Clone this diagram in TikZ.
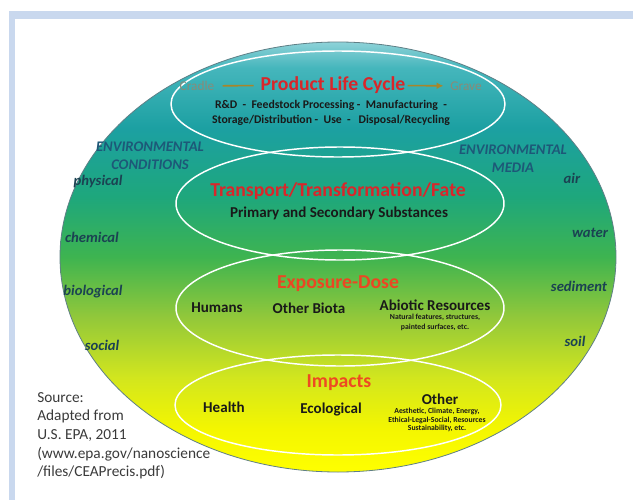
\documentclass[tikz,border=0pt]{standalone}
\usepackage{fontspec}
\setmainfont{Carlito}
\usepackage{xcolor}
\usepackage{tikz}
\usetikzlibrary{positioning,calc,arrows.meta}

\definecolor{frameblue}{HTML}{C9D8EE}
\definecolor{titlered}{HTML}{D9262A}
\definecolor{impactred}{HTML}{EE4A22}
\definecolor{envblue}{HTML}{1D5878}
\definecolor{envtext}{HTML}{1B4252}
\definecolor{cradlegray}{HTML}{8A8A78}
\definecolor{arrowbrown}{HTML}{A8862A}
\definecolor{rimline}{HTML}{5F7F86}
\definecolor{srcgray}{HTML}{3A3A3A}
\definecolor{gTop}{HTML}{8ED2D8}
\definecolor{gCy}{HTML}{45B6BC}
\definecolor{gTe}{HTML}{1CA0A2}
\definecolor{gTg}{HTML}{1EA77C}
\definecolor{gGr}{HTML}{3EB450}
\definecolor{gLg}{HTML}{92C83A}
\definecolor{gYg}{HTML}{D2E61E}
\definecolor{gYel}{HTML}{F4F600}
\definecolor{gBot}{HTML}{FFFF00}

\pgfdeclareverticalshading{globeshade}{100bp}{color(0bp)=(gBot); color(25bp)=(gBot);
  color(30bp)=(gYel); color(36bp)=(gYg); color(43bp)=(gLg); color(50bp)=(gGr);
  color(57bp)=(gTg); color(65bp)=(gTe); color(72bp)=(gCy); color(75bp)=(gTop); color(100bp)=(gTop)}

\begin{document}
\begin{tikzpicture}[x=0.75pt, y=-0.75pt, inner sep=0pt,
    hd/.style={font=\bfseries\fontsize{14.8}{16}\selectfont},
    sub/.style={font=\bfseries\fontsize{11.3}{13}\selectfont, text=black!90},
    lcline/.style={font=\bfseries\fontsize{8.8}{10}\selectfont, text=black!90},
    tiny/.style={font=\bfseries\fontsize{5.8}{6.2}\selectfont, text=black!90, align=center},
    env/.style={font=\bfseries\itshape\fontsize{11}{13}\selectfont, text=envtext},
    envhd/.style={font=\bfseries\itshape\fontsize{11}{13.5}\selectfont, text=envblue, align=center},
    ring/.style={draw=white, line width=1.1pt}]

    \useasboundingbox (0,0) rectangle (633,500);
    \fill[frameblue] (9,11) rectangle (633,19);
    \fill[frameblue] (9,11) rectangle (15,500);

    % globe and the four stages
    \shade[shading=globeshade, draw=rimline, line width=0.6pt] (338,257) ellipse [x radius=278, y radius=215];
    \draw[ring] (338,104) ellipse [x radius=167, y radius=53];
    \draw[ring] (340,203.5) ellipse [x radius=164, y radius=56.5];
    \draw[ring] (340,308) ellipse [x radius=164, y radius=58];
    \draw[ring] (338,405) ellipse [x radius=163, y radius=50];

    \node[hd, text=titlered] (plc) at (333,85) {Product Life Cycle};
    \node[font=\fontsize{10}{12}\selectfont, text=cradlegray] (cradle) at (197,86) {Cradle};
    \node[font=\fontsize{10}{12}\selectfont, text=cradlegray] (grave) at (466,86) {Grave};
    \draw[arrowbrown, line width=1.2pt, shorten <=6pt, shorten >=5pt] (cradle) -- (plc);
    \draw[arrowbrown, line width=1.2pt, -{Latex[length=5pt,width=5pt]}, shorten <=1.5pt, shorten >=5pt] (plc) -- (grave);
    \node[lcline] (rd) at (331,105) {R\&D \ - \ Feedstock Processing - \ Manufacturing \ -};
    \node[lcline] (sd) at (331,120) {Storage/Distribution - \ Use \ - \ \ Disposal/Recycling};

    \node[envhd] (envc) at (150,156) {ENVIRONMENTAL\\CONDITIONS};
    \node[env] (phys) at (98,182) {physical};
    \node[env] (chem) at (92,237) {chemical};
    \node[env] (bio) at (93,292) {biological};
    \node[env] (soc) at (102,345) {social};

    \node[envhd] (envm) at (513,159) {ENVIRONMENTAL\\MEDIA};
    \node[env] (air) at (572,178) {air};
    \node[env] (water) at (590,233) {water};
    \node[env] (sed) at (579,286) {sediment};
    \node[env] (soil) at (575,341) {soil};

    \node[hd, text=titlered] (trans) at (338,191) {Transport/Transformation/Fate};
    \node[sub] (prim) at (339,213) {Primary and Secondary Substances};

    \node[hd, text=impactred!90!titlered] (expo) at (338,284) {Exposure-Dose};
    \node[sub] (hum) at (217,308) {Humans};
    \node[sub] (biota) at (309,308) {Other Biota};
    \node[sub] (abio) at (435,305) {Abiotic Resources};
    \node[tiny, font=\bfseries\fontsize{5.8}{7.5}\selectfont] (natf) at (435,322) {Natural features, structures,\\painted surfaces, etc.};

    \node[hd, text=impactred] (imp) at (339,383) {Impacts};
    \node[sub] (health) at (224,407) {Health};
    \node[sub] (eco) at (331,409) {Ecological};
    \node[sub] (other) at (440,399) {Other};
    \node[tiny] (aest) at (437,420) {Aesthetic, Climate, Energy,\\Ethical-Legal-Social, Resources\\Sustainability, etc.};

    \node[font=\fontsize{11.5}{14}\selectfont, text=srcgray, align=left, anchor=north west] (src) at (37,392)
      {Source:\\Adapted from\\U.S. EPA, 2011\\(www.epa.gov/nanoscience\\/files/CEAPrecis.pdf)};
\end{tikzpicture}
\end{document}
